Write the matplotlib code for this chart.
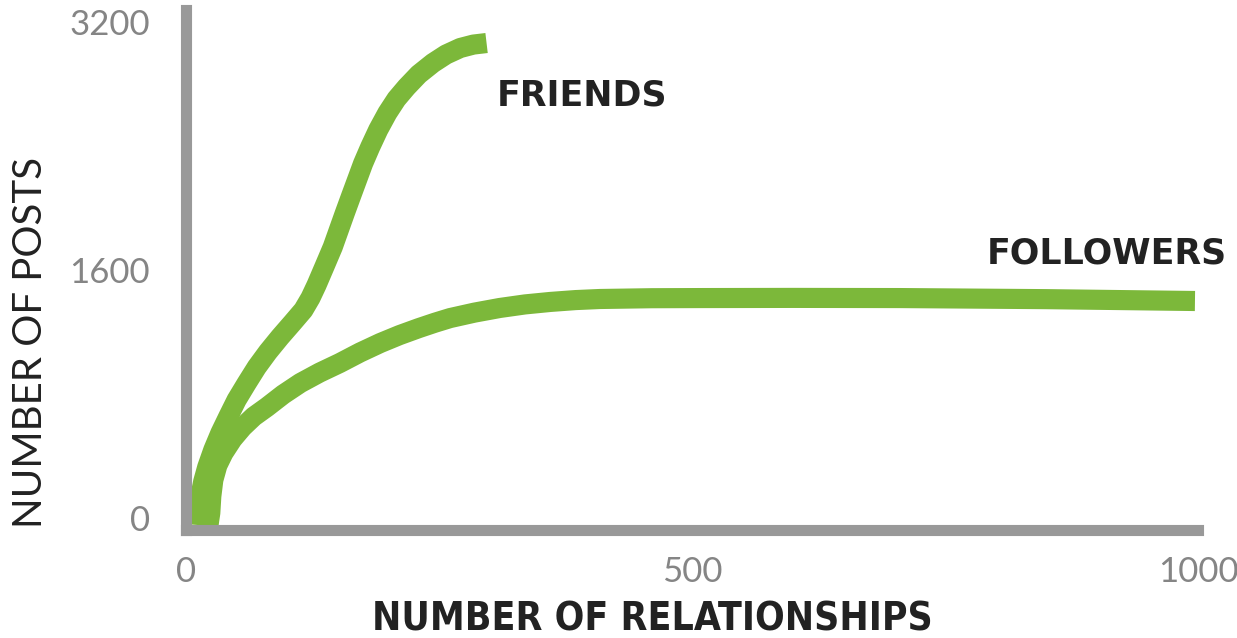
import matplotlib
matplotlib.use('Agg')
from matplotlib import pyplot as plt

# values
friends_x = [12, 13, 14, 17, 21, 27, 34, 42, 50, 60, 70, 81, 93, 105, 116, 123, 129, 137, 145, 151, 157, 163, 169, 175, 182, 190, 199, 208, 218, 230, 244, 257, 271, 284, 297]
friends_y = [-45, 45, 136, 235, 329, 440, 549, 657, 762, 870, 974, 1072, 1168, 1258, 1342, 1420, 1503, 1625, 1748, 1858, 1968, 2075, 2181, 2287, 2393, 2505, 2613, 2703, 2780, 2862, 2935, 2990, 3032, 3054, 3064]

followers_x = [22, 23, 24, 25, 27, 31, 37, 46, 56, 67, 80, 96, 113, 132, 152, 172, 192, 211, 230, 246, 261, 285, 310, 335, 360, 385, 409, 460, 508, 600, 706, 850, 997]
followers_y = [-58, -10, 33, 140, 246, 340, 420, 510, 587, 655, 716, 797, 871, 938, 1000, 1068, 1129, 1180, 1225, 1260, 1290, 1325, 1355, 1378, 1394, 1406, 1413, 1418, 1419, 1420, 1419, 1412, 1400]

x_ticks = [0, 500, 1000]
y_ticks = [0, 1600, 3200]

GREEN = '#7cb83a'
GREY = '#999999'
TICK_GREY = '#858585'
DARK = '#222222'


def main():
    fig = plt.figure(figsize=(12.37, 6.38), dpi=100)
    ax = fig.add_axes([186 / 1237, 108 / 638, 1012 / 1237, 520 / 638])

    ax.plot(friends_x, friends_y, color=GREEN, lw=14.5, solid_capstyle='butt', solid_joinstyle='round')
    ax.plot(followers_x, followers_y, color=GREEN, lw=14.5, solid_capstyle='butt', solid_joinstyle='round')

    ax.set_xlim(0, 1000)
    ax.set_ylim(-77, 3277)

    for side in ('top', 'right'):
        ax.spines[side].set_visible(False)
    for side in ('left', 'bottom'):
        ax.spines[side].set_color(GREY)
        ax.spines[side].set_linewidth(8)

    ax.set_xticks(x_ticks)
    ax.set_yticks(y_ticks)
    ax.tick_params(length=0, labelsize=25, labelcolor=TICK_GREY)
    ax.tick_params(axis='x', pad=19)
    ax.tick_params(axis='y', pad=26)
    for lbl in ax.get_xticklabels() + ax.get_yticklabels():
        lbl.set_family('Lato')

    ax.set_xlabel('NUMBER OF RELATIONSHIPS', family='DejaVu Sans', fontstretch='condensed',
                  fontweight='bold', fontsize=28, color=DARK, va='top')
    ax.xaxis.set_label_coords(0.461, -0.135)
    ax.set_ylabel('NUMBER OF POSTS', family='Lato', fontsize=29, color=DARK)
    ax.yaxis.set_label_coords(-0.135, 0.36)

    ax.text(307, 2664, 'FRIENDS', family='DejaVu Sans', fontweight='bold', fontsize=25, color=DARK)
    ax.text(791, 1639, 'FOLLOWERS', family='DejaVu Sans', fontweight='bold', fontsize=25, color=DARK)

    fig.savefig('out.png', dpi=100)


if __name__ == '__main__':
    main()
